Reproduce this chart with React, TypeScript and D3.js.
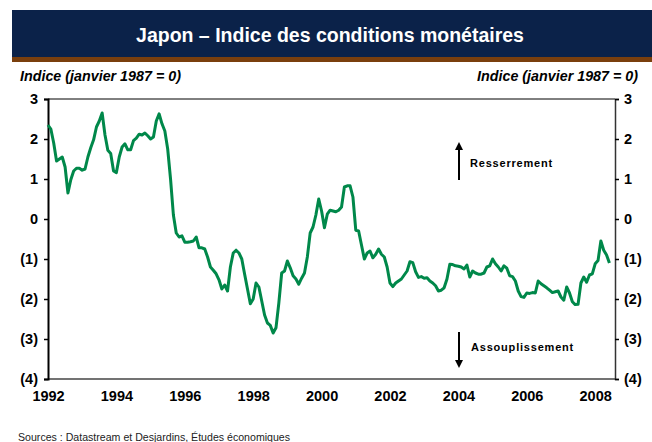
import { useRef, useEffect } from "react";
import * as d3 from "d3";

// indice mensuel, janvier 1992 a juin 2008
const startYear = 1992;
const icm = [
  2.35, 2.25, 1.9, 1.45, 1.5, 1.55, 1.3, 0.65, 0.98, 1.2, 1.27, 1.27,
  1.22, 1.25, 1.55, 1.78, 1.98, 2.3, 2.45, 2.65, 2.1, 1.72, 1.64, 1.2,
  1.16, 1.55, 1.8, 1.88, 1.73, 1.73, 1.96, 2.02, 2.12, 2.1, 2.15, 2.08,
  2.0, 2.05, 2.45, 2.63, 2.38, 2.2, 1.75, 1.0, 0.1, -0.35, -0.45, -0.42,
  -0.58, -0.58, -0.57, -0.55, -0.45, -0.72, -0.72, -0.75, -0.95, -1.2, -1.28, -1.37,
  -1.52, -1.75, -1.65, -1.8, -1.2, -0.85, -0.78, -0.85, -1.0, -1.38, -1.75, -2.12,
  -2.0, -1.6, -1.7, -2.05, -2.4, -2.6, -2.66, -2.85, -2.72, -2.1, -1.35, -1.3,
  -1.05, -1.22, -1.42, -1.5, -1.63, -1.48, -1.35, -0.95, -0.35, -0.2, 0.1, 0.5,
  0.2, -0.22, 0.12, 0.22, 0.2, 0.18, 0.22, 0.3, 0.8, 0.83, 0.83, 0.55,
  -0.28, -0.3, -0.65, -1.0, -0.85, -0.8, -0.97, -0.88, -0.75, -0.88, -0.95, -1.2,
  -1.6, -1.69, -1.6, -1.55, -1.5, -1.4, -1.3, -1.07, -1.09, -1.32, -1.46, -1.44,
  -1.48, -1.47, -1.55, -1.6, -1.67, -1.8, -1.78, -1.72, -1.5, -1.13, -1.14, -1.17,
  -1.18, -1.2, -1.25, -1.15, -1.45, -1.3, -1.35, -1.38, -1.38, -1.35, -1.2, -1.17,
  -1.0, -1.12, -1.2, -1.3, -1.17, -1.23, -1.42, -1.44, -1.55, -1.8, -1.94, -1.96,
  -1.85, -1.86, -1.84, -1.85, -1.55, -1.62, -1.67, -1.72, -1.78, -1.84, -1.82, -1.8,
  -1.95, -2.03, -1.7, -1.85, -2.07, -2.14, -2.13, -1.6, -1.45, -1.58, -1.4, -1.37,
  -1.12, -1.04, -0.55, -0.78, -0.9, -1.1,
];
const yearTicks = [1992, 1994, 1996, 1998, 2000, 2002, 2004, 2006, 2008];
const yTicks = [3, 2, 1, 0, -1, -2, -3, -4];

const title = "Japon \u2013 Indice des conditions monétaires";
const axisTitle = "Indice (janvier 1987 = 0)";
const upLabel = "Resserrement";
const downLabel = "Assouplissement";
const source = "Sources : Datastream et Desjardins, Études économiques";

export default function App() {
  const ref = useRef<SVGSVGElement>(null);

  useEffect(() => {
    const W = 652;
    const H = 442;
    const svg = d3.select(ref.current).attr("width", W).attr("height", H);
    svg.selectAll("*").remove();
    const font = "'Liberation Sans', Arial, sans-serif";

    const left = 48;
    const right = 615;
    const top = 99;
    const bottom = 379;

    const x = d3.scaleLinear().domain([1992, 2008.58]).range([left, right]);
    const y = d3.scaleLinear().domain([-4, 3]).range([bottom, top]);
    const fmt = (v: number) => (v < 0 ? `(${-v})` : `${v}`);

    // bandeau titre
    svg.append("rect").attr("x", 12).attr("y", 10).attr("width", W - 12).attr("height", 47).attr("fill", "#0b2249");
    svg.append("rect").attr("x", 12).attr("y", 57).attr("width", W - 12).attr("height", 5).attr("fill", "#7a3f0d");
    svg
      .append("text")
      .attr("x", 330)
      .attr("y", 42)
      .attr("text-anchor", "middle")
      .attr("fill", "#fff")
      .style("font", `bold 19.5px ${font}`)
      .text(title);

    svg.append("text").attr("x", 20).attr("y", 81).style("font", `italic bold 14.3px ${font}`).text(axisTitle);
    svg
      .append("text")
      .attr("x", 638)
      .attr("y", 81)
      .attr("text-anchor", "end")
      .style("font", `italic bold 14.3px ${font}`)
      .text(axisTitle);

    // cadre
    svg.append("line").attr("x1", left).attr("x2", right).attr("y1", top).attr("y2", top).attr("stroke", "#000").attr("stroke-width", 1);
    svg.append("line").attr("x1", left).attr("x2", right).attr("y1", bottom).attr("y2", bottom).attr("stroke", "#444").attr("stroke-width", 1.5);

    const yl = svg.append("g").attr("transform", `translate(${left},0)`).call(d3.axisLeft(y).tickValues(yTicks).tickSize(4).tickFormat((d) => fmt(+d)));
    const yr = svg.append("g").attr("transform", `translate(${right},0)`).call(d3.axisRight(y).tickValues(yTicks).tickSize(4).tickFormat((d) => fmt(+d)));
    yl.select(".domain").attr("stroke", "#000").attr("stroke-width", 2);
    yr.select(".domain").attr("stroke", "#333").attr("stroke-width", 1.5);
    [yl, yr].forEach((g) => {
      g.selectAll(".tick line").attr("stroke", "#000").attr("stroke-width", 1.5);
      g.selectAll(".tick text").style("font", `bold 14.5px ${font}`).attr("fill", "#000");
    });
    yl.selectAll(".tick text").attr("x", -10);
    yr.selectAll(".tick text").attr("x", 9);

    const xa = svg.append("g").attr("transform", `translate(0,${bottom})`).call(d3.axisBottom(x).tickValues(yearTicks).tickSize(0).tickFormat((d) => `${d}`));
    xa.select(".domain").remove();
    xa.selectAll(".tick text").attr("y", 12).style("font", `bold 14.5px ${font}`).attr("fill", "#000");

    // courbe
    const line = d3
      .line<number>()
      .x((d, i) => x(startYear + i / 12))
      .y((d) => y(d));
    svg
      .append("path")
      .datum(icm)
      .attr("d", line)
      .attr("fill", "none")
      .attr("stroke", "#00884a")
      .attr("stroke-width", 3)
      .attr("stroke-linejoin", "round");

    // fleches
    const defs = svg.append("defs");
    defs
      .append("marker")
      .attr("id", "head")
      .attr("viewBox", "0 0 10 10")
      .attr("refX", 5)
      .attr("refY", 5)
      .attr("markerWidth", 4)
      .attr("markerHeight", 4)
      .attr("orient", "auto")
      .append("path")
      .attr("d", "M0,0L10,5L0,10Z")
      .attr("fill", "#000");
    svg.append("line").attr("x1", 459).attr("x2", 459).attr("y1", 180).attr("y2", 146).attr("stroke", "#000").attr("stroke-width", 2).attr("marker-end", "url(#head)");
    svg.append("line").attr("x1", 459).attr("x2", 459).attr("y1", 332).attr("y2", 364).attr("stroke", "#000").attr("stroke-width", 2).attr("marker-end", "url(#head)");
    svg.append("text").attr("x", 470).attr("y", 167).style("font", `bold 11px ${font}`).style("letter-spacing", "0.8px").text(upLabel);
    svg.append("text").attr("x", 471).attr("y", 351).style("font", `bold 11px ${font}`).style("letter-spacing", "0.8px").text(downLabel);

    svg.append("text").attr("x", 18).attr("y", 441).style("font", `10.6px ${font}`).attr("fill", "#222").text(source);
  }, []);

  return (
    <div style={{ position: "absolute", left: 0, top: 0, background: "#fff" }}>
      <svg ref={ref} style={{ display: "block" }} />
    </div>
  );
}
